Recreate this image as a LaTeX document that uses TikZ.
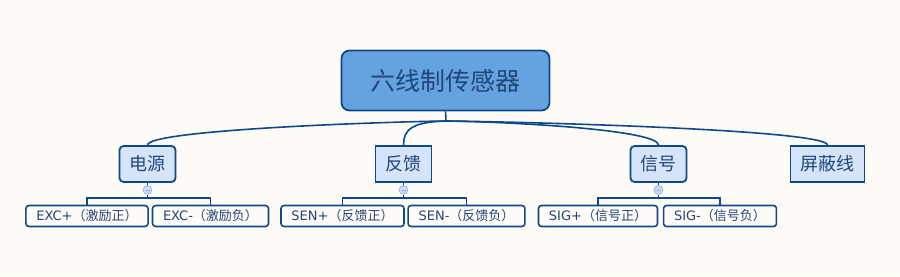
\documentclass[tikz,border=0pt]{standalone}
\usepackage{fontspec}
\setmainfont{DejaVu Sans}
\newfontfamily\cjk{Noto Sans CJK SC}
\newcommand{\zh}[1]{{\cjk #1}}
\definecolor{arka}{HTML}{FFFBF6}
\definecolor{cerceve}{HTML}{0E4A8A}
\definecolor{yazi}{HTML}{21467A}
\definecolor{anadolgu}{HTML}{65A2E0}
\definecolor{daldolgu}{HTML}{D6E4FA}
\definecolor{dugme}{HTML}{C9DAF4}
\definecolor{dugmecizgi}{HTML}{8FB2E0}
\begin{document}
\begin{tikzpicture}[x=1pt, y=-1pt,
  link/.style={cerceve, line width=1.6pt},
  mainbox/.style={draw=cerceve, line width=1.8pt, fill=anadolgu, text=yazi,
    rounded corners=8pt, minimum width=208pt, minimum height=60pt,
    font=\cjk\fontsize{25}{30}\selectfont},
  topicbox/.style={draw=cerceve, line width=1.8pt, fill=daldolgu, text=yazi,
    inner xsep=10pt, minimum height=36pt, font=\cjk\fontsize{18}{22}\selectfont},
  leafbox/.style={draw=cerceve, line width=1.6pt, fill=arka, text=yazi,
    rounded corners=3pt, inner xsep=10.5pt, minimum height=21pt,
    font=\fontsize{13}{15}\selectfont},
  toggle/.style={circle, draw=dugmecizgi, fill=dugme, line width=0.6pt,
    inner sep=0pt, minimum size=9pt}]
  \fill[arka] (0,0) rectangle (900,276);

  % --- ana dugum ---
  \node[mainbox] (sensor) at (445.5,80.5) {六线制传感器};
  \coordinate (hub) at (446,121);
  \draw[link] (sensor.south) -- (hub);

  % --- birinci seviye ---
  \foreach \n/\x/\t/\r in {power/147.5/电源/4pt, feedback/403.5/反馈/0pt,
                           signal/658.5/信号/4pt, shield/827.5/屏蔽线/0pt}
    \node[topicbox, rounded corners=\r] (\n) at (\x,164) {\t};

  \foreach \n/\b in {power/-70, feedback/-35, signal/70, shield/90}
    \draw[link] (hub) .. controls +(\b,1) and +(0,-15) .. (\n.north);

  % --- yapraklar ---
  \foreach \p/\a/\xa/\ta/\b/\xb/\tb in {
      power/excp/87/{EXC+\zh{（激励正）}}/excn/210.5/{EXC-\zh{（激励负）}},
      feedback/senp/342.5/{SEN+\zh{（反馈正）}}/senn/466.5/{SEN-\zh{（反馈负）}},
      signal/sigp/598/{SIG+\zh{（信号正）}}/sign/720/{SIG-\zh{（信号负）}}} {
    \node[leafbox] (\a) at (\xa,216) {\ta};
    \node[leafbox] (\b) at (\xb,216) {\tb};
    \node[toggle] (t\p) at ([yshift=-7pt]\p.south) {};
    \draw[dugmecizgi, line width=0.6pt] ([xshift=-2pt]t\p.center) -- ([xshift=2pt]t\p.center);
    \coordinate (k\p) at ([yshift=-8pt]t\p.center);
    \draw[link, line width=1pt] (\p) -- (t\p);
    \draw[link] (t\p) -- (k\p);
    \draw[link] (\a.north) |- (k\p) -| (\b.north);
  }
\end{tikzpicture}
\end{document}
